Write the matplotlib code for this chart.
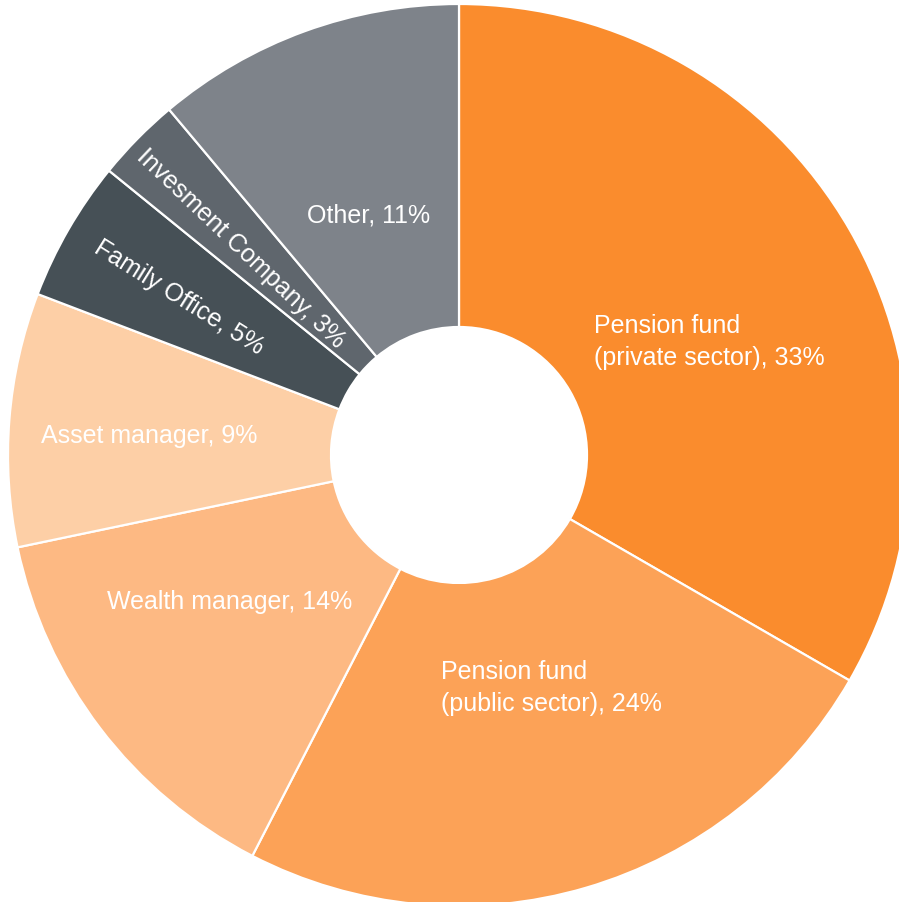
import matplotlib
matplotlib.use('Agg')
import matplotlib.pyplot as plt

# data
categories = ['Pension fund\n(private sector)', 'Pension fund\n(public sector)', 'Wealth manager',
              'Asset manager', 'Family Office', 'Invesment Company', 'Other']
shares = [33, 24, 14, 9, 5, 3, 11]
colors = ['#FA8C2D', '#FCA257', '#FDB983', '#FDCFA6', '#465056', '#5F666D', '#7E838A']

plt.rcParams['font.family'] = ['Liberation Sans', 'DejaVu Sans']

W, H = 899, 903
fig = plt.figure(figsize=(W / 100, H / 100), dpi=100)
ax = fig.add_axes([0, 0, 1, 1])

cx, cy, r_out, r_in = 459, H - 456, 451, 128
ax.pie(shares, colors=colors, startangle=90, counterclock=False,
       center=(cx, cy), radius=r_out, frame=True,
       wedgeprops=dict(width=r_out - r_in, edgecolor='white', linewidth=1.6))
ax.set_xlim(0, W)
ax.set_ylim(0, H)
ax.set_aspect('equal')
ax.axis('off')

# labels (x, y in pixel coords from top, alignment, rotation)
label_pos = [
    (594, 342, 'left', 0),
    (441, 688, 'left', 0),
    (107, 602, 'left', 0),
    (41, 436, 'left', 0),
    (179, 298, 'center', -32),
    (241, 249, 'center', -43.5),
    (369, 216, 'center', 0),
]
for cat, val, (x, y, ha, rot) in zip(categories, shares, label_pos):
    ax.text(x, H - y, f'{cat}, {val}%', color='white', fontsize=18,
            ha=ha, va='center', rotation=rot, rotation_mode='anchor',
            linespacing=1.4)

fig.savefig('out.png', dpi=100)
